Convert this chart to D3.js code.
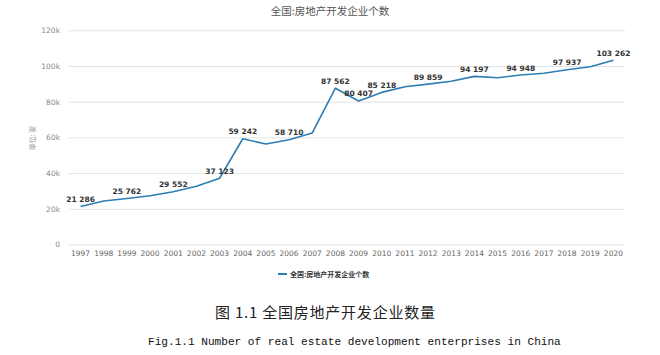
<!DOCTYPE html>
<html><head><meta charset="utf-8">
<script src="https://cdn.jsdelivr.net/npm/d3@7"></script>
<style>body{margin:0;background:#fff}svg{display:block}</style>
</head><body>
<script>
const years = ["1997","1998","1999","2000","2001","2002","2003","2004","2005","2006","2007","2008","2009","2010","2011","2012","2013","2014","2015","2016","2017","2018","2019","2020"];
const values = [21286,24378,25762,27303,29552,32618,37123,59242,56290,58710,62518,87562,80407,85218,88419,89859,91444,94197,93426,94948,95897,97937,99544,103262];
const labeledYears = ["1997","1999","2001","2003","2004","2006","2008","2009","2010","2012","2014","2016","2018","2020"];
const yTicks = [0,20000,40000,60000,80000,100000,120000];
const tickLabels = ["0","20k","40k","60k","80k","100k","120k"];
const title = "全国:房地产开发企业个数";
const yTitle = "单位: 家";
const caption1 = "图 1.1 全国房地产开发企业数量";
const caption2 = "Fig.1.1 Number of real estate development enterprises in China";

const W=660,H=355;
const svg=d3.select("body").append("svg").attr("width",W).attr("height",H);
const cjk='"Noto Sans CJK SC","Noto Sans",sans-serif';
const x=d3.scaleBand().domain(years).range([69,625]);
const xc=d=>x(d)+x.bandwidth()/2;
const y=d3.scaleLinear().domain([0,120000]).range([244.5,30.3]);

svg.append("text").attr("x",330).attr("y",15).attr("text-anchor","middle")
  .attr("font-family",cjk).attr("font-size",10.5).attr("fill","#555").text(title);

const gy=svg.append("g").attr("transform","translate(69,0)")
  .call(d3.axisLeft(y).tickValues(yTicks).tickSize(-556).tickFormat((d,i)=>tickLabels[i]).tickPadding(9));
gy.select(".domain").remove();
gy.selectAll(".tick line").attr("stroke","#e3e3e3");
gy.selectAll(".tick text").attr("fill","#888").attr("font-size",7.5).attr("font-family","DejaVu Sans, sans-serif");

svg.append("text").attr("transform","translate(35,138) rotate(-90)").attr("text-anchor","middle")
  .attr("font-family",cjk).attr("font-size",7).attr("fill","#999").text(yTitle);

const gx=svg.append("g").attr("transform","translate(0,244.5)")
  .call(d3.axisBottom(x).tickSize(0).tickPadding(6));
gx.select(".domain").remove();
gx.selectAll(".tick text").attr("fill","#666").attr("font-size",7.5).attr("font-family","DejaVu Sans, sans-serif");

const line=d3.line().x((d,i)=>xc(years[i])).y(d=>y(d));
svg.append("path").datum(values).attr("d",line).attr("fill","none")
  .attr("stroke","#2e7db5").attr("stroke-width",1.6).attr("stroke-linejoin","round");

const fmt=v=>d3.format(",")(v).replace(/,/g," ");
svg.append("g").selectAll("text").data(labeledYears).join("text")
  .attr("x",d=>xc(d)).attr("y",d=>y(values[years.indexOf(d)])-4.5)
  .attr("text-anchor","middle").attr("font-family","DejaVu Sans, sans-serif")
  .attr("font-size",7.5).attr("font-weight","bold").attr("fill","#333")
  .text(d=>fmt(values[years.indexOf(d)]));

svg.append("line").attr("x1",278).attr("x2",287).attr("y1",274).attr("y2",274)
  .attr("stroke","#2e7db5").attr("stroke-width",2);
svg.append("text").attr("x",290).attr("y",276.5).attr("font-family",cjk)
  .attr("font-size",7).attr("font-weight","bold").attr("fill","#333").text(title);

svg.append("text").attr("x",215).attr("y",318).attr("font-family",cjk)
  .attr("font-size",15).attr("fill","#222").attr("textLength",220).attr("lengthAdjust","spacing")
  .style("white-space","pre").text(caption1);
svg.append("text").attr("x",148).attr("y",345).attr("font-family",'"Liberation Mono",monospace')
  .attr("font-size",11.1).attr("fill","#111").text(caption2);
</script>
</body></html>
